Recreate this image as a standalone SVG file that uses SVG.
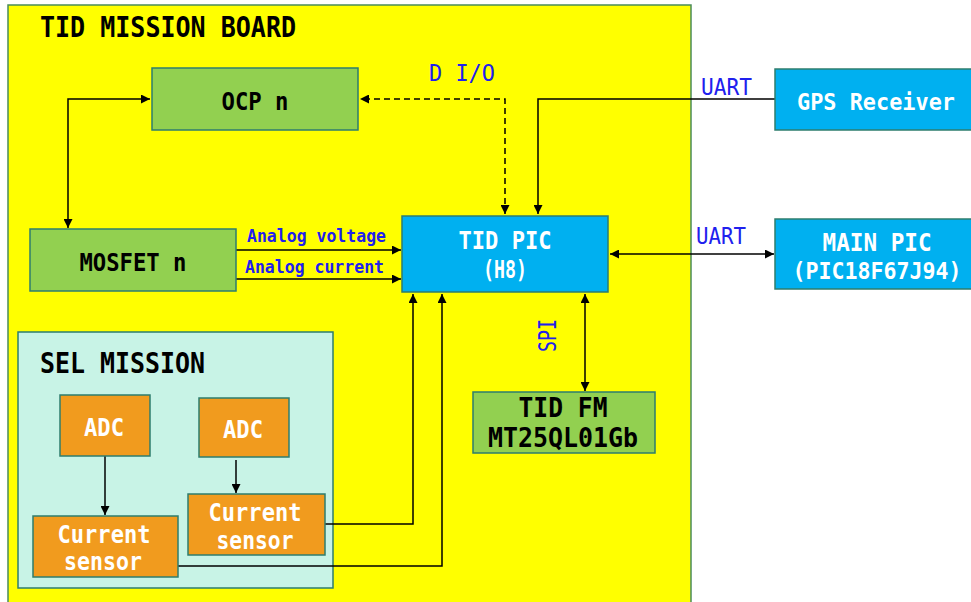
<svg xmlns="http://www.w3.org/2000/svg" width="971" height="602" viewBox="0 0 971 602">
<style>
.t{font-family:"DejaVu Sans Mono","Liberation Mono",monospace;font-weight:bold;text-anchor:middle}
.bk{fill:#000}
.wh{fill:#fff}
.bl{fill:#2020EE;font-family:"DejaVu Sans Mono","Liberation Mono",monospace}
.green{fill:#92D050;stroke:#2E7D6E;stroke-width:1.5}
.blue{fill:#00B0F0;stroke:#2E7D6E;stroke-width:1.5}
.orange{fill:#F19B1E;stroke:#2E7D6E;stroke-width:1.5}
.ln{fill:none;stroke:#000;stroke-width:1.5}
.dash{fill:none;stroke:#000;stroke-width:1.5;stroke-dasharray:6 4}
</style>
<defs>
<marker id="ah" viewBox="0 0 10 10" refX="10" refY="5" markerWidth="10" markerHeight="9" markerUnits="userSpaceOnUse" orient="auto-start-reverse">
<path d="M0,0 L10,5 L0,10 z" fill="#000"/>
</marker>
</defs>
<rect x="0" y="0" width="971" height="602" fill="#fff"/>
<g id="board">
<rect x="8" y="5" width="683" height="600" fill="#FFFF00" stroke="#4A8C5A" stroke-width="1.5"/>
<text class="t bk" x="168" y="37" font-size="28" textLength="256" lengthAdjust="spacingAndGlyphs">TID MISSION BOARD</text>
</g>
<g id="sel-mission">
<rect x="18" y="332" width="315" height="256" fill="#C8F3E6" stroke="#2E7D6E" stroke-width="1.5"/>
<text class="t bk" x="122.5" y="373" font-size="28" textLength="165" lengthAdjust="spacingAndGlyphs">SEL MISSION</text>
</g>
<g id="connectors">
<path class="ln" d="M68,228 V99 H150" marker-start="url(#ah)" marker-end="url(#ah)"/>
<path class="dash" d="M505,214 V99 H360" marker-start="url(#ah)" marker-end="url(#ah)"/>
<path class="ln" d="M775,99 H538 V214" marker-end="url(#ah)"/>
<path class="ln" d="M236,250 H401" marker-end="url(#ah)"/>
<path class="ln" d="M236,279 H401" marker-end="url(#ah)"/>
<path class="ln" d="M610,254 H774" marker-start="url(#ah)" marker-end="url(#ah)"/>
<path class="ln" d="M585,294 V391" marker-start="url(#ah)" marker-end="url(#ah)"/>
<path class="ln" d="M105,456 V515" marker-end="url(#ah)"/>
<path class="ln" d="M236,460 V493" marker-end="url(#ah)"/>
<path class="ln" d="M325,524 H413 V294" marker-end="url(#ah)"/>
<path class="ln" d="M178,566 H442 V294" marker-end="url(#ah)"/>
<text class="bl" x="429" y="81" font-size="23" textLength="66" lengthAdjust="spacingAndGlyphs">D I/O</text>
<text class="bl" x="701" y="95" font-size="23" textLength="51" lengthAdjust="spacingAndGlyphs">UART</text>
<text class="bl" x="696" y="244" font-size="23" textLength="50" lengthAdjust="spacingAndGlyphs">UART</text>
<text class="bl" transform="translate(556,352) rotate(-90)" x="0" y="0" font-size="25" textLength="33" lengthAdjust="spacingAndGlyphs">SPI</text>
<text class="bl" x="247" y="242" font-size="17" font-weight="bold" textLength="139" lengthAdjust="spacingAndGlyphs">Analog voltage</text>
<text class="bl" x="245" y="273" font-size="17" font-weight="bold" textLength="139" lengthAdjust="spacingAndGlyphs">Analog current</text>
</g>
<g id="ocp">
<rect class="green" x="152" y="68" width="206" height="62"/>
<text class="t bk" x="255" y="110" font-size="25" textLength="67" lengthAdjust="spacingAndGlyphs">OCP n</text>
</g>
<g id="mosfet">
<rect class="green" x="30" y="229" width="206" height="62"/>
<text class="t bk" x="133" y="271" font-size="25" textLength="107" lengthAdjust="spacingAndGlyphs">MOSFET n</text>
</g>
<g id="tid-pic">
<rect class="blue" x="402" y="216" width="206" height="76"/>
<text class="t wh" x="505" y="249" font-size="25" textLength="93" lengthAdjust="spacingAndGlyphs">TID PIC</text>
<text class="t wh" x="505" y="278" font-size="25" textLength="44" lengthAdjust="spacingAndGlyphs">(H8)</text>
</g>
<g id="gps">
<rect class="blue" x="775" y="69" width="197" height="61"/>
<text class="t wh" x="876" y="110" font-size="23" textLength="158" lengthAdjust="spacingAndGlyphs">GPS Receiver</text>
</g>
<g id="main-pic">
<rect class="blue" x="775" y="219" width="197" height="70"/>
<text class="t wh" x="877" y="251" font-size="24" textLength="109" lengthAdjust="spacingAndGlyphs">MAIN PIC</text>
<text class="t wh" x="877" y="279" font-size="23" textLength="169" lengthAdjust="spacingAndGlyphs">(PIC18F67J94)</text>
</g>
<g id="tid-fm">
<rect class="green" x="473" y="392" width="182" height="61"/>
<text class="t bk" x="563" y="417" font-size="27" textLength="89" lengthAdjust="spacingAndGlyphs">TID FM</text>
<text class="t bk" x="563" y="447" font-size="27" textLength="150" lengthAdjust="spacingAndGlyphs">MT25QL01Gb</text>
</g>
<g id="adc1">
<rect class="orange" x="60" y="395" width="90" height="61"/>
<text class="t wh" x="104" y="436" font-size="25" textLength="40" lengthAdjust="spacingAndGlyphs">ADC</text>
</g>
<g id="adc2">
<rect class="orange" x="199" y="398" width="90" height="59"/>
<text class="t wh" x="243" y="438" font-size="25" textLength="40" lengthAdjust="spacingAndGlyphs">ADC</text>
</g>
<g id="sensor1">
<rect class="orange" x="33" y="516" width="145" height="61"/>
<text class="t wh" x="104" y="543" font-size="25" textLength="93" lengthAdjust="spacingAndGlyphs">Current</text>
<text class="t wh" x="103" y="570" font-size="25" textLength="78" lengthAdjust="spacingAndGlyphs">sensor</text>
</g>
<g id="sensor2">
<rect class="orange" x="188" y="494" width="137" height="61"/>
<text class="t wh" x="255" y="521" font-size="25" textLength="93" lengthAdjust="spacingAndGlyphs">Current</text>
<text class="t wh" x="255" y="549" font-size="25" textLength="77" lengthAdjust="spacingAndGlyphs">sensor</text>
</g>
</svg>
